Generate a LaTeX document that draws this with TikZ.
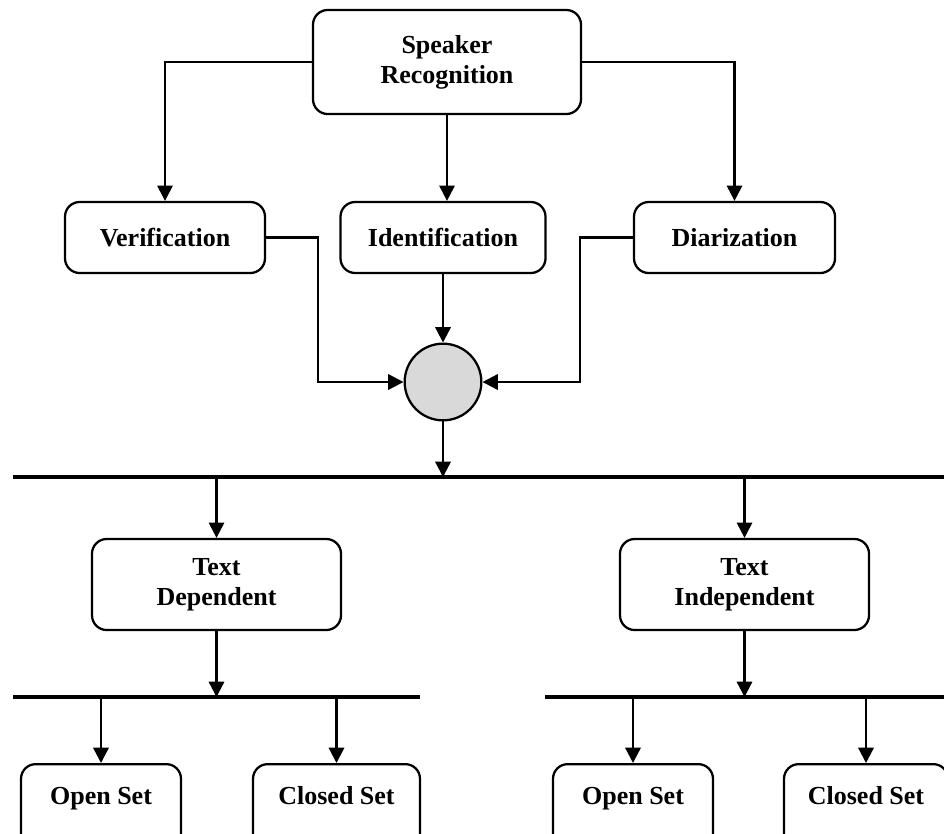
\documentclass[tikz,border=0pt]{standalone}
\usepackage{fontspec}
\setmainfont{Liberation Serif}
\usetikzlibrary{arrows.meta}
\begin{document}
\begin{tikzpicture}[x=0.75pt,y=-0.75pt,
  box/.style={draw,line width=1.7pt,rounded corners=11pt,align=center,
    font=\bfseries\fontsize{19.5}{22.5}\selectfont,inner sep=0pt},
  leaf/.style={box,anchor=north,inner ysep=0pt,text height=30pt,text depth=60pt},
  hub/.style={draw,line width=1.7pt,circle,fill=black!15,minimum size=57.5pt,inner sep=0pt},
  arr/.style={line width=1.7pt,-{Triangle[length=11.5pt,width=11.5pt]}},
  bus/.style={line width=3.4pt}]
\useasboundingbox (0,0) rectangle (944,833);
\clip (0,0) rectangle (944,833);

% main categories
\node[box,minimum width=201pt,minimum height=78pt] (top) at (447,62) {Speaker\\Recognition};
\node[box,minimum width=150pt,minimum height=53.25pt] (ver) at (165,237.5) {Verification};
\node[box,minimum width=153.75pt,minimum height=53.25pt] (ide) at (443,237.5) {Identification};
\node[box,minimum width=150.75pt,minimum height=53.25pt] (dia) at (734.5,237.5) {Diarization};
\node[hub] (hub) at (443,382) {};

% text modes
\node[box,minimum width=186.75pt,minimum height=68.25pt] (td) at (216.5,584.5) {Text\\Dependent};
\node[box,minimum width=186.75pt,minimum height=68.25pt] (ti) at (744.5,584.5) {Text\\Independent};

% open / closed set leaves
\node[leaf,minimum width=120pt] (os1) at (101,763) {Open Set};
\node[leaf,minimum width=125.25pt] (cs1) at (336.5,763) {Closed Set};
\node[leaf,minimum width=120pt] (os2) at (633,763) {Open Set};
\node[leaf,minimum width=123pt] (cs2) at (866,763) {Closed Set};

% bus bars
\coordinate (b1w) at (13,477);
\coordinate (b1e) at (944,477);
\coordinate (b2lw) at (13,697);
\coordinate (b2le) at (420,697);
\coordinate (b2rw) at (545,697);
\coordinate (b2re) at (944,697);
\draw[bus] (b1w) -- (b1e);
\draw[bus] (b2lw) -- (b2le);
\draw[bus] (b2rw) -- (b2re);

% top level connectors
\draw[arr] (top.west) -| (ver.north);
\draw[arr] (top.east) -| (dia.north);
\draw[arr] (top.south) -- (top.south |- ide.north);

% into the hub
\draw[arr] (ide.south) -- (hub.north);
\draw[arr] (ver.east) -- ++(52,0) |- (hub.west);
\draw[arr] (dia.west) -- ++(-53,0) |- (hub.east);
\draw[arr] (hub.south) -- (hub.south |- b1w);

% down to the text modes
\draw[arr] (td.north |- b1w) -- (td.north);
\draw[arr] (ti.north |- b1w) -- (ti.north);
\draw[arr] (td.south) -- (td.south |- b2lw);
\draw[arr] (ti.south) -- (ti.south |- b2rw);

% down to the leaves
\draw[arr] (os1.north |- b2lw) -- (os1.north);
\draw[arr] (cs1.north |- b2lw) -- (cs1.north);
\draw[arr] (os2.north |- b2rw) -- (os2.north);
\draw[arr] (cs2.north |- b2rw) -- (cs2.north);
\end{tikzpicture}
\end{document}
